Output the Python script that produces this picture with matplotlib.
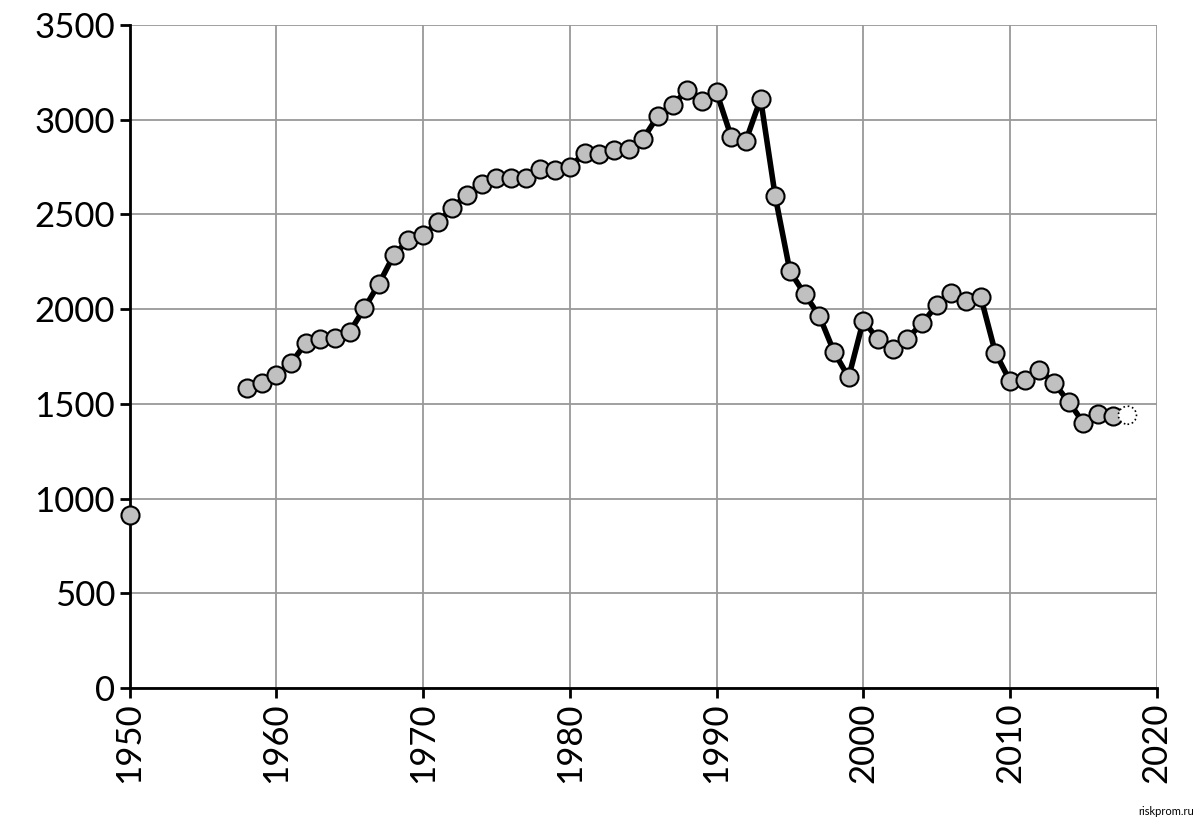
import matplotlib
matplotlib.use("Agg")
import matplotlib.pyplot as plt
plt.rcParams['font.family'] = ['Lato', 'DejaVu Sans']

years = [1950] + list(range(1958, 2018))
values = [915, 1585, 1610, 1655, 1715, 1820, 1845, 1850, 1880, 2005, 2135, 2285, 2365,
          2390, 2460, 2535, 2605, 2660, 2695, 2695, 2695, 2740, 2735, 2750, 2825, 2820,
          2840, 2845, 2900, 3020, 3080, 3155, 3100, 3145, 2910, 2890, 3110, 2595, 2200,
          2080, 1965, 1775, 1640, 1940, 1840, 1790, 1845, 1925, 2020, 2085, 2045, 2065,
          1770, 1620, 1625, 1680, 1610, 1510, 1400, 1445, 1435]
est_year = [2018]
est_value = [1440]

fig = plt.figure(figsize=(12, 8.21), dpi=100)
ax = fig.add_axes([0.108, 0.162, 0.856, 0.8075])
ax.plot(years[1:], values[1:], color='black', lw=4, zorder=2)
ax.plot(years, values, 'o', ms=13, mfc='#c0c0c0', mec='black', mew=1.5, ls='none', zorder=3, clip_on=False)
ax.scatter(est_year, est_value, s=169, facecolors='white', edgecolors='black', linestyles=':', linewidths=1.2, zorder=3)

ax.set_xlim(1950, 2020)
ax.set_ylim(0, 3500)
ax.set_xticks(range(1950, 2021, 10))
ax.set_yticks(range(0, 3501, 500))
ax.grid(True, color='#999999', lw=1.3)
ax.set_axisbelow(True)
for s in ['top', 'right']:
    ax.spines[s].set_visible(False)
for s in ['left', 'bottom']:
    ax.spines[s].set_linewidth(2)
    ax.spines[s].set_zorder(1)
ax.tick_params(axis='both', labelsize=25, length=7, width=2, direction='out')
plt.setp(ax.get_xticklabels(), rotation=90)
fig.text(0.995, 0.005, 'riskprom.ru', ha='right', va='bottom', fontsize=8)
fig.savefig('out.png')
